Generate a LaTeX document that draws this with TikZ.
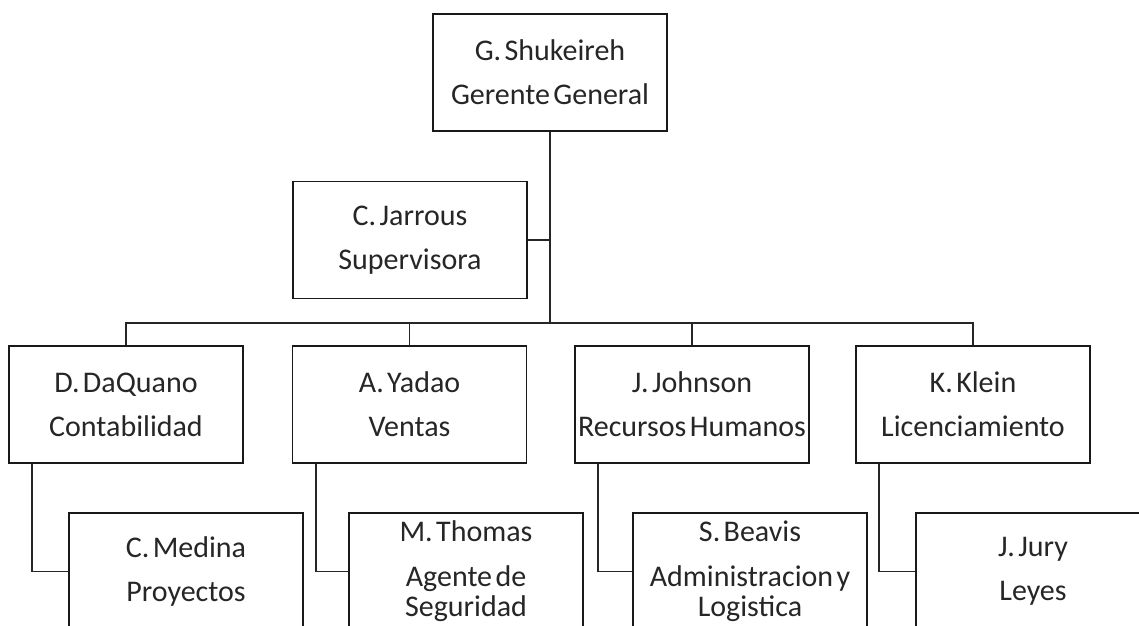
\documentclass[tikz,border=0pt]{standalone}
\usepackage{fontspec}
\setmainfont{Carlito}[WordSpace=0.5]
\begin{document}
\begin{tikzpicture}[x=1pt,y=1pt,
  orgbox/.style={draw=black!90, line width=1.8pt, fill=white, minimum width=234pt, minimum height=117pt,
    inner sep=0pt, align=center, text=black!85, font=\fontsize{30}{30}\selectfont},
  conn/.style={draw=black!85, line width=1.8pt}]
\clip (0,0) rectangle (1139,-625);
\fill[white] (0,0) rectangle (1139,-625);
% top
\node[orgbox] (top) at (550,-72.5) {G. Shukeireh\\[14pt]Gerente General};
\node[orgbox] (sup) at (410,-240) {C. Jarrous\\[14pt]Supervisora};
% parents
\node[orgbox] (p1) at (126,-404.5) {D. DaQuano\\[14pt]Contabilidad};
\node[orgbox] (p2) at (409.5,-404.5) {A. Yadao\\[14pt]Ventas};
\node[orgbox] (p3) at (692,-404.5) {J. Johnson\\[14pt]Recursos Humanos};
\node[orgbox] (p4) at (973,-404.5) {K. Klein\\[14pt]Licenciamiento};
% children
\node[orgbox] (c1) at (186,-571.5) {C. Medina\\[14pt]Proyectos};
\node[orgbox] (c2) at (466,-571.5) {M. Thomas\\[15pt]Agente de\\Seguridad};
\node[orgbox] (c3) at (750,-571.5) {S. Beavis\\[15pt]Administracion y\\Logistica};
\node[orgbox] (c4) at (1033,-571.5) {J. Jury\\[14pt]Leyes};
% connectors
\coordinate (bus) at (550,-323);
\draw[conn] (top.south) -- (bus);
\draw[conn] (sup.east) -- (sup.east -| top.south);
\draw[conn] (p1.north) -- (p1.north |- bus) -- (p4.north |- bus) -- (p4.north);
\draw[conn] (p2.north) -- (p2.north |- bus);
\draw[conn] (p3.north) -- (p3.north |- bus);
\draw[conn] ([xshift=24pt]p1.south west) |- (c1.west);
\draw[conn] ([xshift=24pt]p2.south west) |- (c2.west);
\draw[conn] ([xshift=24pt]p3.south west) |- (c3.west);
\draw[conn] ([xshift=24pt]p4.south west) |- (c4.west);
\end{tikzpicture}
\end{document}
